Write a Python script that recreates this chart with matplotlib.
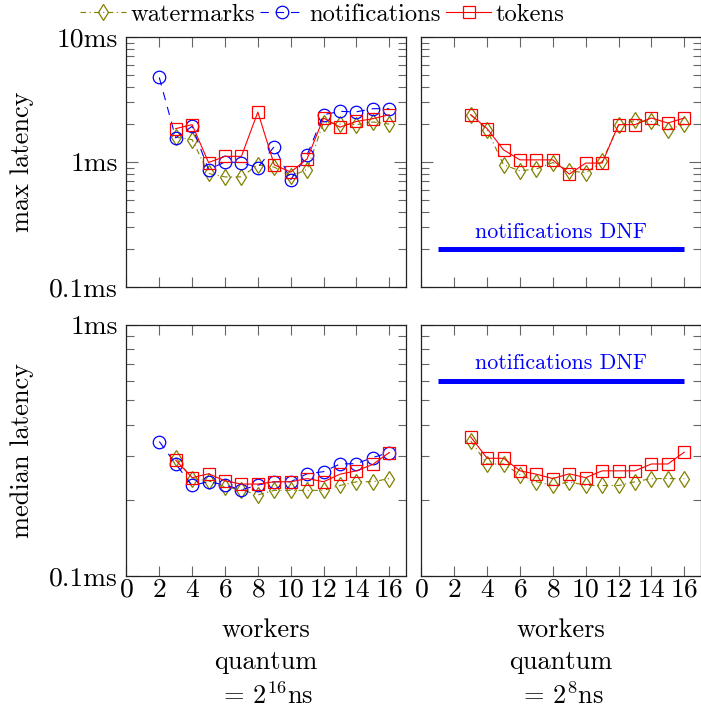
import matplotlib
matplotlib.use("Agg")
import matplotlib.pyplot as plt
from matplotlib.ticker import FixedLocator, FixedFormatter, LogLocator, NullFormatter

plt.rcParams['font.family'] = 'serif'
plt.rcParams['font.serif'] = ['cmr10', 'DejaVu Serif']
plt.rcParams['mathtext.fontset'] = 'cm'
plt.rcParams['axes.unicode_minus'] = False
plt.rcParams['axes.formatter.use_mathtext'] = True
plt.rcParams['lines.scale_dashes'] = False

# ---------------- data (latency in ms) ----------------
workers_notif = [2, 3, 4, 5, 6, 7, 8, 9, 10, 11, 12, 13, 14, 15, 16]
workers = [3, 4, 5, 6, 7, 8, 9, 10, 11, 12, 13, 14, 15, 16]

# max latency, quantum 2^16 ns
max16_watermarks = [1.58, 1.51, 0.81, 0.76, 0.76, 0.95, 0.91, 0.77, 0.87, 2.07, 2.01, 1.99, 2.09, 2.01]
max16_notifications = [4.75, 1.56, 1.93, 0.87, 1.0, 0.99, 0.9, 1.33, 0.72, 1.14, 2.39, 2.54, 2.52, 2.67, 2.67]
max16_tokens = [1.85, 1.99, 0.99, 1.11, 1.11, 2.51, 0.95, 0.83, 1.06, 2.25, 1.9, 2.11, 2.22, 2.39]

# max latency, quantum 2^8 ns
max8_watermarks = [2.39, 1.81, 0.95, 0.85, 0.88, 0.99, 0.85, 0.82, 1.01, 1.97, 2.15, 2.11, 1.81, 2.01]
max8_tokens = [2.39, 1.85, 1.25, 1.04, 1.04, 1.04, 0.80, 0.98, 0.98, 1.99, 1.99, 2.25, 2.05, 2.25]

# median latency, quantum 2^16 ns
med16_watermarks = [0.296, 0.244, 0.239, 0.226, 0.220, 0.210, 0.219, 0.219, 0.219, 0.219, 0.229, 0.237, 0.237, 0.244]
med16_notifications = [0.343, 0.279, 0.229, 0.237, 0.230, 0.220, 0.230, 0.237, 0.237, 0.255, 0.260, 0.279, 0.280, 0.296, 0.310]
med16_tokens = [0.289, 0.246, 0.255, 0.239, 0.232, 0.232, 0.237, 0.237, 0.244, 0.237, 0.254, 0.262, 0.278, 0.310]

# median latency, quantum 2^8 ns
med8_watermarks = [0.345, 0.279, 0.279, 0.253, 0.237, 0.229, 0.237, 0.229, 0.229, 0.229, 0.237, 0.244, 0.244, 0.244]
med8_tokens = [0.358, 0.294, 0.294, 0.262, 0.254, 0.244, 0.255, 0.246, 0.262, 0.262, 0.262, 0.279, 0.279, 0.311]

# "did not finish" marker lines
dnf_x = [1, 16]
dnf_max_y = 0.2
dnf_med_y = 0.6
dnf_label = "notifications DNF"

xticks = [0, 2, 4, 6, 8, 10, 12, 14, 16]
max_yticks = [0.1, 1, 10]
max_yticklabels = ["0.1ms", "1ms", "10ms"]
med_yticks = [0.1, 1]
med_yticklabels = ["0.1ms", "1ms"]
col_labels = ["workers\nquantum\n$=\\,2^{16}$ns", "workers\nquantum\n$=\\,2^{8}$ns"]
row_labels = ["max latency", "median latency"]

# ---------------- styles ----------------
OLIVE = (0.5, 0.5, 0.0)
BLUE = (0.0, 0.0, 1.0)
RED = (1.0, 0.0, 0.0)
W, H = 701, 708
TICKFS = 19.8
LABELFS = 19

wm_style = dict(color=OLIVE, marker='d', markersize=8.5, markerfacecolor='none',
                markeredgewidth=0.9, linewidth=0.8, dashes=(4, 2.5, 0.8, 2.5))
nt_style = dict(color=BLUE, marker='o', markersize=9, markerfacecolor='none',
                markeredgewidth=0.9, linewidth=0.8, dashes=(6, 5))
tk_style = dict(color=RED, marker='s', markersize=8.5, markerfacecolor='none',
                markeredgewidth=0.9, linewidth=0.8, linestyle='-')

fig = plt.figure(figsize=(W / 100, H / 100), dpi=100)


def make_ax(x0, x1, ytop, ybot):
    return fig.add_axes([x0 / W, 1 - ybot / H, (x1 - x0) / W, (ybot - ytop) / H])


axTL = make_ax(126.4, 405.7, 37, 287)
axTR = make_ax(421.4, 700.7, 37, 287)
axBL = make_ax(126.4, 405.7, 325, 575.7)
axBR = make_ax(421.4, 700.7, 325, 575.7)


def style_ax(ax, ylim, yticks, yticklabels, show_y, show_x):
    ax.set_yscale('log')
    ax.set_xlim(0, 17)
    ax.set_ylim(*ylim)
    ax.xaxis.set_major_locator(FixedLocator(xticks))
    ax.yaxis.set_major_locator(FixedLocator(yticks))
    ax.yaxis.set_major_formatter(FixedFormatter(yticklabels))
    ax.yaxis.set_minor_locator(LogLocator(base=10, subs=range(2, 10)))
    ax.yaxis.set_minor_formatter(NullFormatter())
    ax.tick_params(axis='both', which='both', direction='in', top=True, right=True,
                   color='#666666', width=0.8, labelsize=TICKFS)
    ax.tick_params(axis='x', which='major', length=7, pad=1.5)
    ax.tick_params(axis='y', which='major', length=8.5, pad=6)
    ax.tick_params(axis='y', which='minor', length=5.5)
    if not show_x:
        ax.tick_params(axis='x', labelbottom=False)
    if not show_y:
        ax.tick_params(axis='y', labelleft=False)
    for s in ax.spines.values():
        s.set_linewidth(0.9)
        s.set_color('#222222')


style_ax(axTL, (0.1, 10), max_yticks, max_yticklabels, True, False)
style_ax(axTR, (0.1, 10), max_yticks, max_yticklabels, False, False)
style_ax(axBL, (0.1, 1), med_yticks, med_yticklabels, True, True)
style_ax(axBR, (0.1, 1), med_yticks, med_yticklabels, False, True)

# top-left
axTL.plot(workers, max16_watermarks, label='watermarks', **wm_style)
axTL.plot(workers_notif, max16_notifications, label='notifications', **nt_style)
axTL.plot(workers, max16_tokens, label='tokens', **tk_style)

# top-right
axTR.plot(workers, max8_watermarks, **wm_style)
axTR.plot(workers, max8_tokens, **tk_style)
axTR.plot(dnf_x, [dnf_max_y] * 2, color=BLUE, linewidth=3.6, solid_capstyle='butt')
axTR.annotate(dnf_label, (sum(dnf_x) / 2, dnf_max_y), xytext=(0, 12),
              textcoords='offset points', color=BLUE, fontsize=15.8,
              ha='center', va='center')

# bottom-left
axBL.plot(workers, med16_watermarks, **wm_style)
axBL.plot(workers_notif, med16_notifications, **nt_style)
axBL.plot(workers, med16_tokens, **tk_style)

# bottom-right
axBR.plot(workers, med8_watermarks, **wm_style)
axBR.plot(workers, med8_tokens, **tk_style)
axBR.plot(dnf_x, [dnf_med_y] * 2, color=BLUE, linewidth=3.6, solid_capstyle='butt')
axBR.annotate(dnf_label, (sum(dnf_x) / 2, dnf_med_y), xytext=(0, 12.5),
              textcoords='offset points', color=BLUE, fontsize=15.8,
              ha='center', va='center')

# axis labels
axTL.set_ylabel(row_labels[0], fontsize=LABELFS)
axBL.set_ylabel(row_labels[1], fontsize=LABELFS)
for ax in (axTL, axBL):
    ax.yaxis.set_label_coords(-0.33, 0.5)
axBL.set_xlabel(col_labels[0], fontsize=LABELFS, linespacing=1.42, labelpad=12)
axBR.set_xlabel(col_labels[1], fontsize=LABELFS, linespacing=1.42, labelpad=12)

# legend
handles, labels = axTL.get_legend_handles_labels()
fig.legend(handles, labels, loc='center', bbox_to_anchor=(322.5 / W, 1 - 15 / H),
           ncol=3, frameon=False, fontsize=17.7, handlelength=1.85, handletextpad=0.18,
           columnspacing=0.2, borderpad=0.0)

fig.savefig('out.png', dpi=100)
